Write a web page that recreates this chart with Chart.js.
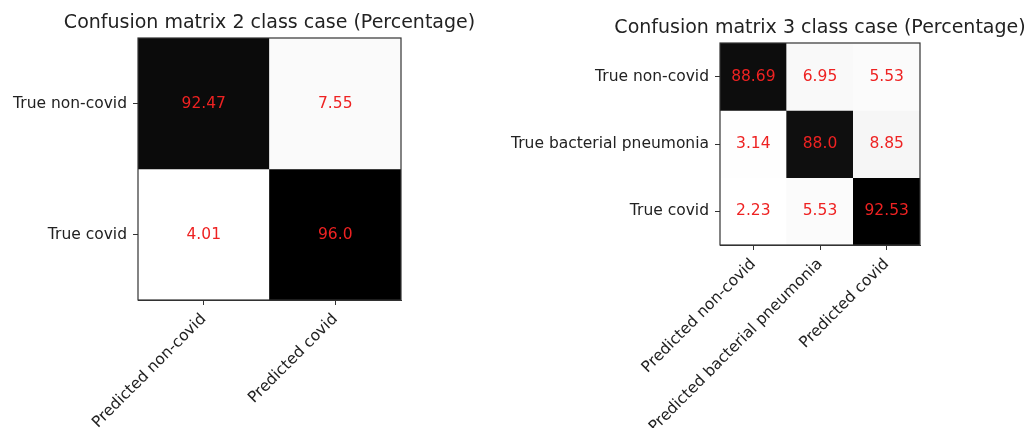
<!DOCTYPE html>
<html>
<head>
<meta charset="utf-8">
<script src="https://cdn.jsdelivr.net/npm/chart.js@4.4.1/dist/chart.umd.min.js"></script>
<style>
    body { margin: 0; background: #fff; width: 1024px; height: 428px; position: relative; overflow: hidden; }
    .box { position: absolute; top: 0; height: 428px; }
    #left { left: 0; width: 480px; }
    #right { left: 480px; width: 544px; }
</style>
</head>
<body>
<div class="box" id="left"><canvas id="cm2"></canvas></div>
<div class="box" id="right"><canvas id="cm3"></canvas></div>
<script>
// 2 class case
const rows2 = ['True non-covid', 'True covid'];
const cols2 = ['Predicted non-covid', 'Predicted covid'];
const cm2Row0 = [92.47, 7.55];
const cm2Row1 = [4.01, 96.0];

// 3 class case
const rows3 = ['True non-covid', 'True bacterial pneumonia', 'True covid'];
const cols3 = ['Predicted non-covid', 'Predicted bacterial pneumonia', 'Predicted covid'];
const cm3Row0 = [88.69, 6.95, 5.53];
const cm3Row1 = [3.14, 88.0, 8.85];
const cm3Row2 = [2.23, 5.53, 92.53];

const FONT = '"DejaVu Sans", sans-serif';
const greys = [255, 240, 217, 189, 150, 115, 82, 37, 0]; // matplotlib Greys

const greyColor = (v, min, max) => {
    const t = (v - min) / (max - min) * 8;
    const i = Math.min(7, Math.floor(t));
    const g = Math.round(greys[i] + (greys[i + 1] - greys[i]) * (t - i));
    return `rgb(${g},${g},${g})`;
};

const fmt = (v) => Number.isInteger(v) ? v.toFixed(1) : String(v);

// cell numbers, frame and a title centred over the plot like matplotlib does
const cellPlugin = {
    id: 'cells',
    afterDatasetsDraw(chart, args, opts) {
        const ctx = chart.ctx;
        const a = chart.chartArea;
        ctx.save();
        ctx.font = '15.5px ' + FONT;
        ctx.fillStyle = '#ee2222';
        ctx.textAlign = 'center';
        ctx.textBaseline = 'middle';
        chart.data.datasets.forEach((ds, r) => {
            chart.getDatasetMeta(r).data.forEach((bar, c) => {
                const p = bar.getCenterPoint();
                ctx.fillText(fmt(ds.values[c]), p.x, p.y);
            });
        });
        ctx.strokeStyle = '#333';
        ctx.lineWidth = 1.2;
        ctx.strokeRect(a.left, a.top, a.right - a.left, a.bottom - a.top);

        ctx.font = '19px ' + FONT;
        ctx.fillStyle = '#222';
        ctx.fillText(opts.text, (a.left + a.right) / 2, opts.y);
        ctx.restore();
    }
};

function makeMatrix(id, rows, cols, matrix, title, geo) {
    const all = matrix.flat();
    const min = Math.min(...all);
    const max = Math.max(...all);
    const tickFont = { family: FONT, size: 15.5 };
    return new Chart(document.getElementById(id), {
        type: 'bar',
        data: {
            labels: cols,
            datasets: matrix.map((vals, r) => ({
                data: cols.map(() => [r, r + 1]),
                values: vals,
                backgroundColor: vals.map(v => greyColor(v, min, max)),
                borderWidth: 0,
                barPercentage: 1,
                categoryPercentage: 1,
                grouped: false
            }))
        },
        options: {
            responsive: true,
            maintainAspectRatio: false,
            animation: false,
            events: [],
            layout: { padding: { left: 0, right: geo.right, top: geo.top, bottom: 0 } },
            plugins: {
                legend: { display: false },
                tooltip: { enabled: false },
                title: { display: false },
                cells: { text: title, y: geo.titleY }
            },
            scales: {
                x: {
                    type: 'category',
                    offset: true,
                    grid: { offset: false, drawOnChartArea: false, tickLength: 5, color: '#333' },
                    border: { color: '#333' },
                    ticks: { autoSkip: false, minRotation: 45, maxRotation: 45, font: tickFont, color: '#222', padding: 5 },
                    afterFit(s) { s.height = geo.xh; }
                },
                y: {
                    type: 'linear',
                    min: 0,
                    max: rows.length,
                    reverse: true,
                    afterBuildTicks(s) { s.ticks = rows.map((_, i) => ({ value: i + 0.5 })); },
                    grid: { drawOnChartArea: false, tickLength: 5, color: '#333' },
                    border: { color: '#333' },
                    ticks: { callback: (v, i) => rows[i], font: tickFont, color: '#222', padding: 6 },
                    afterFit(s) { s.width = geo.yw; }
                }
            }
        },
        plugins: [cellPlugin]
    });
}

makeMatrix('cm2', rows2, cols2, [cm2Row0, cm2Row1],
    'Confusion matrix 2 class case (Percentage)',
    { yw: 138, right: 79, xh: 128, top: 38, titleY: 23.5 });

makeMatrix('cm3', rows3, cols3, [cm3Row0, cm3Row1, cm3Row2],
    'Confusion matrix 3 class case (Percentage)',
    { yw: 240, right: 104, xh: 183, top: 43, titleY: 28.5 });
</script>
</body>
</html>
